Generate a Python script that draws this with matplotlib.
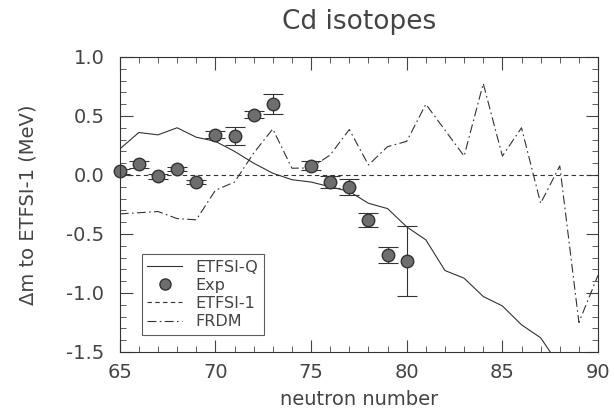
import numpy as np
import matplotlib
matplotlib.use('Agg')
import matplotlib.pyplot as plt
from matplotlib.ticker import MultipleLocator
from matplotlib.lines import Line2D

# experimental points
n_exp = [65, 66, 67, 68, 69, 70, 71, 72, 73, 75, 76, 77, 78, 79, 80]
dm_exp = [0.03, 0.09, -0.01, 0.05, -0.06, 0.34, 0.33, 0.51, 0.60, 0.08, -0.06, -0.10, -0.38, -0.68, -0.73]
err_exp = [0.02, 0.03, 0.02, 0.02, 0.02, 0.03, 0.08, 0.03, 0.085, 0.04, 0.05, 0.07, 0.057, 0.07, 0.30]

# ETFSI-Q
n_q = [65, 66, 67, 68, 69, 70, 71, 72, 73, 74, 75, 76, 77, 78, 79, 80, 81, 82, 83, 84, 85, 86, 87, 88]
dm_q = [0.22, 0.36, 0.34, 0.40, 0.32, 0.285, 0.20, 0.10, 0.015, -0.04, -0.06, -0.10, -0.14, -0.24,
        -0.285, -0.44, -0.55, -0.81, -0.875, -1.03, -1.11, -1.27, -1.38, -1.62]

# ETFSI-1 (reference)
n_e1 = [65, 90]
dm_e1 = [0.0, 0.0]

# FRDM
n_frdm = [65, 66, 67, 68, 69, 70, 71, 72, 73, 74, 75, 76, 77, 78, 79, 80, 81, 82, 83, 84, 85, 86, 87, 88, 89, 90]
dm_frdm = [-0.33, -0.32, -0.31, -0.37, -0.38, -0.13, -0.06, 0.185, 0.39, 0.057, 0.06, 0.17, 0.385, 0.085,
           0.24, 0.285, 0.60, 0.38, 0.16, 0.775, 0.16, 0.40, -0.24, 0.077, -1.25, -0.85]

fig = plt.figure(figsize=(6.14, 4.16), dpi=100)
ax = fig.add_axes([0.195, 0.154, 0.779, 0.709])

lc = '#333333'
tc = '#444444'
mfc = '#6e6e6e'
ax.plot(n_q, dm_q, '-', color=lc, lw=0.8)
eb = ax.errorbar(n_exp, dm_exp, yerr=err_exp, fmt='o', color=mfc, ms=9, mec='#333333',
                 ecolor='#333333', elinewidth=0.8, capsize=7.5, capthick=0.8)
for a in eb.lines[0:1]:
    a.set_clip_on(False)
ax.plot(n_e1, dm_e1, color=lc, lw=0.8, dashes=(4, 3))
ax.plot(n_frdm, dm_frdm, color=lc, lw=0.8, dashes=(8, 3, 1.5, 3))

ax.set_xlim(65, 90)
ax.set_ylim(-1.5, 1.0)
ax.xaxis.set_major_locator(MultipleLocator(5))
ax.xaxis.set_minor_locator(MultipleLocator(1))
ax.yaxis.set_major_locator(MultipleLocator(0.5))
ax.yaxis.set_minor_locator(MultipleLocator(0.1))
ax.yaxis.set_major_formatter(matplotlib.ticker.FormatStrFormatter('%.1f'))
ax.tick_params(which='both', direction='in', top=True, right=True, labelsize=14,
               color='#444444', labelcolor=tc)
ax.tick_params(axis='x', pad=8)
ax.tick_params(axis='y', pad=11)
ax.tick_params(which='major', length=9, width=0.8)
ax.tick_params(which='minor', length=4, width=0.6)
for s in ax.spines.values():
    s.set_linewidth(0.8)
    s.set_color('#333333')

ax.set_xlabel('neutron number', fontsize=14, color=tc, labelpad=6)
ax.set_ylabel('Δm to ETFSI-1 (MeV)', fontsize=14, color=tc, labelpad=21)
ax.set_title('Cd isotopes', fontsize=19, color=tc, pad=20)

handles = [Line2D([], [], color=lc, lw=0.8),
           Line2D([], [], ls='none', marker='o', ms=8, mfc=mfc, mec='#333333'),
           Line2D([], [], color=lc, lw=0.8, dashes=(4, 3)),
           Line2D([], [], color=lc, lw=0.8, dashes=(8, 3, 1.5, 3))]
labels = ['ETFSI-Q', 'Exp', 'ETFSI-1', 'FRDM']
leg = ax.legend(handles, labels, loc='lower left', bbox_to_anchor=(0.046, 0.058), fontsize=11.5,
                frameon=True, fancybox=False, edgecolor='#333333', handlelength=2.2,
                handletextpad=0.8, borderpad=0.35, labelspacing=0.2, borderaxespad=0)
leg.get_frame().set_linewidth(0.8)
for t in leg.get_texts():
    t.set_color(tc)

fig.savefig('out.png', dpi=100)
